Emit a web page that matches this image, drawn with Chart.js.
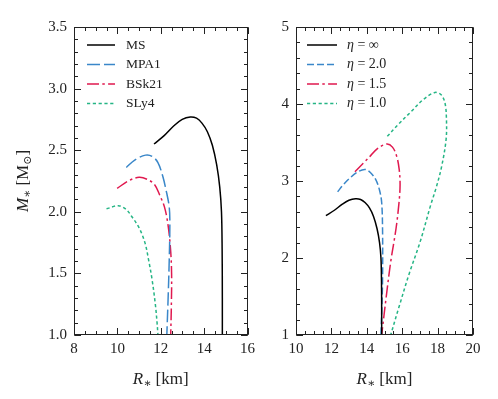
<!DOCTYPE html>
<html>
<head>
<meta charset="utf-8">
<script src="https://cdn.jsdelivr.net/npm/chart.js@4.4.1/dist/chart.umd.min.js"></script>
<style>
  html, body { margin: 0; padding: 0; background: #fff; }
  #wrap { position: relative; width: 498px; height: 399px; }
  canvas { position: absolute; top: 0; }
  #left { left: 0; }
  #right { left: 260px; }
</style>
</head>
<body>
<div id="wrap">
  <canvas id="left" width="260" height="399"></canvas>
  <canvas id="right" width="238" height="399"></canvas>
</div>
<script>
// left panel: equations of state
const eosLabels = ['MS', 'MPA1', 'BSk21', 'SLy4'];
const msR   = [11.69, 12.17, 12.62, 12.99, 13.36, 13.65, 13.9, 14.15, 14.38, 14.58, 14.72, 14.8, 14.83, 14.84, 14.84];
const msM   = [2.55, 2.62, 2.70, 2.75, 2.77, 2.76, 2.72, 2.65, 2.54, 2.38, 2.20, 2.00, 1.70, 1.30, 1.00];
const mpa1R = [10.41, 10.8, 11.3, 11.6, 11.87, 12.09, 12.24, 12.39, 12.42, 12.39, 12.34, 12.28];
const mpa1M = [2.36, 2.42, 2.46, 2.45, 2.40, 2.29, 2.18, 2.04, 1.90, 1.60, 1.30, 1.00];
const bskR  = [9.99, 10.5, 11.0, 11.42, 11.72, 11.94, 12.17, 12.33, 12.45, 12.5, 12.49, 12.46];
const bskM  = [2.19, 2.25, 2.28, 2.26, 2.22, 2.14, 2.04, 1.90, 1.70, 1.50, 1.25, 1.00];
const slyR  = [9.5, 10.04, 10.4, 10.67, 11.0, 11.27, 11.45, 11.6, 11.75, 11.83, 11.87];
const slyM  = [2.024, 2.05, 2.02, 1.96, 1.87, 1.75, 1.60, 1.45, 1.25, 1.10, 1.00];

// right panel: MS with different eta
const etaLabels = ['η = ∞', 'η = 2.0', 'η = 1.5', 'η = 1.0'];
const eta2R  = [12.35, 12.67, 13.05, 13.5, 13.9, 14.2, 14.5, 14.72, 14.84, 14.89, 14.89, 14.84, 14.8];
const eta2M  = [2.86, 2.95, 3.04, 3.12, 3.15, 3.11, 3.02, 2.88, 2.72, 2.37, 1.72, 1.28, 1.00];
const eta15R = [13.33, 13.8, 14.18, 14.6, 15.12, 15.45, 15.69, 15.83, 15.88, 15.82, 15.65, 15.35, 15.1, 14.84];
const eta15M = [3.12, 3.23, 3.32, 3.42, 3.48, 3.44, 3.32, 3.15, 2.95, 2.72, 2.38, 1.95, 1.50, 1.00];
const eta1R  = [15.16, 15.8, 16.5, 17.2, 17.85, 18.2, 18.42, 18.5, 18.48, 18.23, 17.94, 17.6, 17.0, 16.4, 15.8, 15.35];
const eta1M  = [3.58, 3.74, 3.90, 4.06, 4.15, 4.12, 4.01, 3.80, 3.54, 3.19, 2.93, 2.68, 2.20, 1.80, 1.35, 1.00];

const xTicksL = [8, 10, 12, 14, 16];
const yTicksL = [1.0, 1.5, 2.0, 2.5, 3.0, 3.5];
const xTicksR = [10, 12, 14, 16, 18, 20];
const yTicksR = [1, 2, 3, 4, 5];

const FONT = '"Liberation Serif", "DejaVu Serif", serif';
const INK = '#222';

const pts = (r, m) => r.map((v, i) => ({ x: v, y: m[i] }));
const line = (label, r, m, color, dash) => ({
  label, data: pts(r, m), showLine: true, borderColor: color, borderDash: dash,
  borderWidth: 1.5, pointRadius: 0, fill: false, tension: 0.35
});

function rich(ctx, parts, x, y, align) {
  const fontOf = (p) => `${p.it ? 'italic ' : ''}${p.size}px ${FONT}`;
  let w = 0;
  parts.forEach((p) => { ctx.font = fontOf(p); p.w = ctx.measureText(p.t).width; w += p.w; });
  let cx = align === 'center' ? x - w / 2 : x;
  parts.forEach((p) => { ctx.font = fontOf(p); ctx.fillText(p.t, cx, y + (p.dy || 0)); cx += p.w; });
}

const frameTicks = {
  id: 'frameTicks',
  afterDraw(chart, args, o) {
    const { ctx, chartArea: a, scales } = chart;
    const L = Math.round(a.left) + 0.5, R = Math.round(a.right) - 0.5;
    const T = Math.round(a.top) + 0.5, B = Math.round(a.bottom) - 0.5;
    ctx.save();
    ctx.strokeStyle = INK;
    ctx.lineWidth = 1;
    ctx.beginPath();
    const marks = (scale, step, len, horiz) => {
      const n = Math.round((scale.max - scale.min) / step);
      for (let i = 0; i <= n; i += 1) {
        const p = Math.round(scale.getPixelForValue(scale.min + i * step)) + 0.5;
        if (horiz) {
          ctx.moveTo(p, B); ctx.lineTo(p, B - len);
          ctx.moveTo(p, T); ctx.lineTo(p, T + len);
        } else {
          ctx.moveTo(L, p); ctx.lineTo(L + len, p);
          ctx.moveTo(R, p); ctx.lineTo(R - len, p);
        }
      }
    };
    marks(scales.x, o.xMinor, 3.5, true);
    marks(scales.x, o.xMajor, 6.5, true);
    marks(scales.y, o.yMinor, 3.5, false);
    marks(scales.y, o.yMajor, 6.5, false);
    ctx.stroke();
    ctx.strokeRect(L, T, R - L, B - T);

    // axis titles
    ctx.fillStyle = INK;
    ctx.textBaseline = 'alphabetic';
    rich(ctx, [
      { t: 'R', it: true, size: 17 },
      { t: '∗', size: 12, dy: 3 },
      { t: ' [km]', size: 17 }
    ], (a.left + a.right) / 2, 384, 'center');
    if (o.yTitle) {
      ctx.save();
      ctx.translate(28, (a.top + a.bottom) / 2);
      ctx.rotate(-Math.PI / 2);
      rich(ctx, [
        { t: 'M', it: true, size: 17 },
        { t: '∗', size: 12, dy: 3 },
        { t: ' [M', size: 17 },
        { t: '⊙', size: 11, dy: 3 },
        { t: ']', size: 17 }
      ], 0, 0, 'center');
      ctx.restore();
    }

    // legend
    const lg = o.legend;
    chart.data.datasets.forEach((ds, i) => {
      const y = lg.y + i * lg.dy;
      ctx.strokeStyle = ds.borderColor;
      ctx.lineWidth = ds.borderWidth;
      ctx.setLineDash(ds.borderDash || []);
      ctx.beginPath();
      ctx.moveTo(lg.x0, y);
      ctx.lineTo(lg.x1, y);
      ctx.stroke();
      ctx.setLineDash([]);
      ctx.fillStyle = INK;
      ctx.textBaseline = 'middle';
      const parts = ds.label.startsWith('η')
        ? [{ t: 'η', it: true, size: 14 }, { t: ds.label.slice(1), size: 14 }]
        : [{ t: ds.label, size: 13.5 }];
      rich(ctx, parts, lg.tx, y, 'left');
    });
    ctx.restore();
  }
};

function panel(id, cfg) {
  const axis = (min, max, ticks, fmt, fit, pad) => ({
    type: 'linear', min, max,
    grid: { display: false, drawTicks: false },
    border: { display: false },
    afterBuildTicks: (s) => { s.ticks = ticks.map((v) => ({ value: v })); },
    afterFit: fit,
    ticks: {
      padding: pad, color: INK, maxRotation: 0, autoSkip: false,
      font: { family: FONT, size: 15 },
      callback: fmt
    }
  });
  return new Chart(document.getElementById(id), {
    type: 'scatter',
    data: { datasets: cfg.datasets },
    options: {
      responsive: false,
      animation: false,
      layout: { padding: cfg.pad },
      plugins: { legend: { display: false }, tooltip: { enabled: false }, frameTicks: cfg.frame },
      scales: {
        x: axis(cfg.x[0], cfg.x[1], cfg.xTicks, (v) => String(v), (s) => { s.height = 64; }, 5),
        y: axis(cfg.y[0], cfg.y[1], cfg.yTicks, cfg.yFmt, (s) => { s.width = cfg.yWidth; }, 7)
      }
    },
    plugins: [frameTicks]
  });
}

const BLUE = '#3a87c9';
const RED = '#e0194f';
const GREEN = '#25b585';
const DASH_LONG = [13, 4];
const DASH_MID = [7, 3];
const DASH_DOT = [12, 3.3, 2.5, 3.3];
const DOTS = [3.2, 2.6];

panel('left', {
  datasets: [
    line(eosLabels[0], msR, msM, '#000', []),
    line(eosLabels[1], mpa1R, mpa1M, BLUE, DASH_LONG),
    line(eosLabels[2], bskR, bskM, RED, DASH_DOT),
    line(eosLabels[3], slyR, slyM, GREEN, DOTS)
  ],
  pad: { left: 0, top: 27, right: 8, bottom: 0 },
  x: [8, 16], y: [1, 3.5],
  xTicks: xTicksL, yTicks: yTicksL,
  yFmt: (v) => v.toFixed(1),
  yWidth: 74,
  frame: {
    xMinor: 0.5, xMajor: 2, yMinor: 0.1, yMajor: 0.5, yTitle: true,
    legend: { x0: 87, x1: 115, tx: 126, y: 45, dy: 19.5 }
  }
});

panel('right', {
  datasets: [
    line(etaLabels[0], msR, msM, '#000', []),
    line(etaLabels[1], eta2R, eta2M, BLUE, DASH_MID),
    line(etaLabels[2], eta15R, eta15M, RED, DASH_DOT),
    line(etaLabels[3], eta1R, eta1M, GREEN, DOTS)
  ],
  pad: { left: 0, top: 27, right: 25, bottom: 0 },
  x: [10, 20], y: [1, 5],
  xTicks: xTicksR, yTicks: yTicksR,
  yFmt: (v) => String(v),
  yWidth: 36,
  frame: {
    xMinor: 0.5, xMajor: 2, yMinor: 0.2, yMajor: 1, yTitle: false,
    legend: { x0: 47, x1: 77, tx: 87, y: 45, dy: 19.5 }
  }
});
</script>
</body>
</html>
